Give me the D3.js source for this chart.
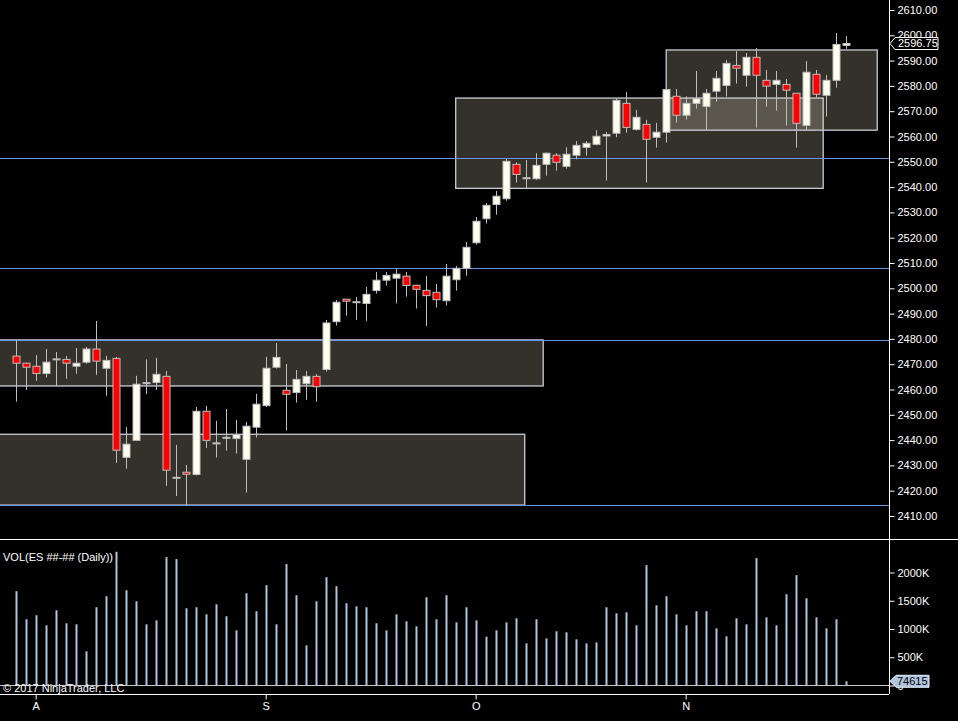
<!DOCTYPE html>
<html>
<head>
<meta charset="utf-8">
<script src="https://cdn.jsdelivr.net/npm/d3@7"></script>
<style>
  body { margin: 0; background: #000; }
  svg { display: block; font-family: "Liberation Sans", Arial, sans-serif; }
  .axis text { fill: #fff; font-size: 11px; }
  .axis line { stroke: #fff; }
  .axis path { display: none; }
</style>
</head>
<body>
<div id="chart"></div>
<script>
// daily bars, index 0 = first bar shown
var open = [2473.2, 2470.4, 2469.2, 2466.3, 2472.1, 2471.9, 2469.2, 2470.8, 2476.0, 2468.4,
    2472.3, 2433.2, 2439.9, 2462.7, 2462.8, 2465.2, 2425.3, 2427.3, 2426.4, 2451.4,
    2438.9, 2441.1, 2440.6, 2432.4, 2445.1, 2453.6, 2468.8, 2459.7, 2458.8, 2462.3,
    2465.2, 2467.9, 2486.8, 2495.7, 2494.7, 2494.0, 2499.1, 2503.2, 2504.0, 2504.8,
    2501.2, 2499.2, 2498.4, 2495.1, 2503.4, 2507.9, 2518.0, 2527.5, 2533.1, 2535.4,
    2549.0, 2543.7, 2543.3, 2549.0, 2552.6, 2548.2, 2552.6, 2555.7, 2556.9, 2560.2,
    2561.3, 2573.1, 2562.8, 2564.8, 2559.7, 2561.7, 2575.9, 2568.4, 2573.1, 2571.9,
    2577.9, 2580.2, 2588.1, 2584.2, 2591.3, 2582.2, 2580.6, 2580.6, 2577.1, 2564.4,
    2584.6, 2576.3, 2582.2, 2596.0];
var high = [2479.6, 2470.6, 2473.6, 2476.0, 2474.8, 2473.3, 2476.4, 2476.8, 2487.1, 2473.3,
    2472.9, 2445.2, 2465.4, 2471.9, 2472.5, 2467.3, 2438.1, 2430.2, 2453.1, 2453.5,
    2447.6, 2452.3, 2448.0, 2447.2, 2458.3, 2472.9, 2478.4, 2470.1, 2467.7, 2467.3,
    2466.1, 2487.5, 2495.4, 2495.7, 2496.6, 2500.5, 2506.5, 2506.5, 2507.7, 2506.5,
    2501.4, 2504.9, 2501.7, 2509.6, 2508.8, 2518.3, 2528.2, 2533.7, 2538.5, 2551.1,
    2549.8, 2550.7, 2553.4, 2553.7, 2553.4, 2555.7, 2558.2, 2558.2, 2562.5, 2561.7,
    2575.0, 2577.6, 2570.5, 2566.6, 2565.4, 2578.6, 2578.8, 2575.9, 2585.9, 2578.8,
    2585.9, 2590.2, 2593.8, 2593.0, 2595.0, 2586.3, 2585.9, 2582.7, 2577.1, 2589.8,
    2586.3, 2584.3, 2600.9, 2599.7];
var low = [2455.2, 2459.8, 2463.4, 2464.7, 2461.4, 2464.2, 2466.2, 2470.2, 2465.8, 2457.5,
    2431.0, 2428.7, 2439.9, 2458.2, 2459.8, 2421.9, 2417.9, 2414.0, 2426.0, 2436.9,
    2433.1, 2435.8, 2434.7, 2419.3, 2441.0, 2453.1, 2468.3, 2443.8, 2454.8, 2455.9,
    2455.2, 2467.1, 2485.3, 2489.2, 2487.5, 2487.1, 2497.9, 2501.1, 2494.0, 2496.7,
    2492.0, 2485.1, 2492.4, 2493.2, 2499.1, 2505.0, 2517.3, 2525.6, 2529.1, 2534.6,
    2541.8, 2539.5, 2542.9, 2544.5, 2546.5, 2547.3, 2551.0, 2552.4, 2556.5, 2542.6,
    2559.7, 2561.5, 2562.3, 2541.8, 2555.6, 2557.6, 2565.5, 2566.7, 2571.0, 2562.6,
    2573.8, 2575.8, 2580.9, 2579.7, 2563.5, 2571.8, 2570.2, 2564.3, 2555.6, 2562.6,
    2575.5, 2567.9, 2579.3, 2594.7];
var close = [2470.4, 2468.8, 2466.3, 2470.8, 2472.1, 2470.4, 2470.4, 2476.0, 2471.2, 2471.5,
    2436.0, 2438.4, 2462.1, 2462.7, 2466.0, 2428.1, 2425.3, 2426.5, 2451.4, 2439.9,
    2438.9, 2441.1, 2442.2, 2445.5, 2454.2, 2468.4, 2472.7, 2458.1, 2464.0, 2465.2,
    2461.1, 2486.3, 2494.5, 2494.9, 2494.7, 2497.6, 2503.2, 2505.1, 2505.6, 2501.1,
    2499.6, 2497.1, 2495.5, 2504.8, 2507.9, 2516.2, 2526.5, 2532.8, 2536.4, 2550.2,
    2545.0, 2543.7, 2548.6, 2553.4, 2549.8, 2553.0, 2556.5, 2557.3, 2560.1, 2560.8,
    2574.3, 2563.6, 2567.6, 2558.9, 2561.7, 2578.6, 2568.4, 2573.1, 2574.9, 2577.1,
    2583.0, 2588.9, 2587.0, 2591.3, 2584.2, 2579.9, 2582.2, 2578.3, 2565.2, 2585.4,
    2576.7, 2582.2, 2596.4, 2596.75];
var volume = [1669000, 1172000, 1243000, 1065000, 1331000, 1101000, 1083000, 604000, 1385000, 1580000,
    2367000, 1686000, 1491000, 1083000, 1154000, 2272000, 2237000, 1367000, 1385000, 1260000,
    1438000, 1225000, 976000, 1633000, 1314000, 1775000, 1083000, 2148000, 1598000, 710000,
    1491000, 1917000, 1757000, 1456000, 1402000, 1385000, 1101000, 976000, 1260000, 1136000,
    1047000, 1562000, 1172000, 1598000, 1118000, 1385000, 1154000, 864000, 976000, 1118000,
    1189000, 746000, 1172000, 834000, 959000, 941000, 817000, 746000, 763000, 1385000,
    1278000, 1296000, 1065000, 2130000, 1420000, 1580000, 1260000, 1065000, 1314000, 1314000,
    1012000, 870000, 1189000, 1083000, 2254000, 1207000, 1065000, 1615000, 1953000, 1544000,
    1207000, 1012000, 1172000, 74615];

// month ticks (bar index of first session of month)
var monthIdx = [2, 25, 46, 67];
var monthLabels = ["A", "S", "O", "N"];

// drawn zones (bar index range, price range)
var zoneStart = [-3, -3, 44.0, 65.05];
var zoneEnd = [52.75, 50.9, 80.75, 86.15];
var zoneTop = [2479.6, 2442.3, 2575.2, 2594.2];
var zoneBottom = [2461.4, 2414.3, 2539.5, 2562.5];

// horizontal lines
var levels = [2551.4, 2508.0, 2479.6, 2414.3];

var priceTicks = d3.range(2410, 2611, 10);
var volTicks = [0, 500000, 1000000, 1500000, 2000000];

var W = 958, H = 721, axisX = 889, sepY = 539.5, volBottom = 694;

var svg = d3.select("#chart").append("svg")
    .attr("width", W)
    .attr("height", H);

svg.append("rect").attr("width", W).attr("height", H).attr("fill", "#000");

var bars = d3.range(open.length).map(function (i) {
    return { i: i, o: open[i], h: high[i], l: low[i], c: close[i], v: volume[i] };
});

var x = d3.scaleLinear().domain([0, 83]).range([15.7, 845.7]);
var y = d3.scaleLinear().domain([2410, 2610]).range([516, 10]);
var yv = d3.scaleLinear().domain([0, 2000000]).range([685.5, 572.5]);

svg.append("clipPath").attr("id", "pclip")
    .append("rect").attr("x", 0).attr("y", 0).attr("width", axisX).attr("height", sepY);

var price = svg.append("g").attr("clip-path", "url(#pclip)");

// zones
var zones = d3.range(zoneStart.length);
price.selectAll(".zone")
    .data(zones)
    .enter().append("rect")
    .attr("class", "zone")
    .attr("x", function (k) { return x(zoneStart[k]); })
    .attr("width", function (k) { return x(zoneEnd[k]) - x(zoneStart[k]); })
    .attr("y", function (k) { return y(zoneTop[k]); })
    .attr("height", function (k) { return y(zoneBottom[k]) - y(zoneTop[k]); })
    .attr("fill", "rgba(238,222,198,0.22)")
    .attr("stroke", "#c8cdd6")
    .attr("stroke-width", 1.3);

// level lines
price.selectAll(".level")
    .data(levels)
    .enter().append("line")
    .attr("class", "level")
    .attr("x1", 0).attr("x2", axisX)
    .attr("y1", function (d) { return Math.round(y(d)) + 0.5; })
    .attr("y2", function (d) { return Math.round(y(d)) + 0.5; })
    .attr("stroke", "#6a95ea")
    .attr("stroke-width", 1.2);

// wicks
price.selectAll(".wick")
    .data(bars)
    .enter().append("line")
    .attr("class", "wick")
    .attr("x1", function (d) { return Math.round(x(d.i)) + 0.5; })
    .attr("x2", function (d) { return Math.round(x(d.i)) + 0.5; })
    .attr("y1", function (d) { return y(d.h); })
    .attr("y2", function (d) { return y(d.l); })
    .attr("stroke", "#bdbdbd")
    .attr("stroke-width", 1);

// bodies
price.selectAll(".body")
    .data(bars)
    .enter().append("rect")
    .attr("class", "body")
    .attr("x", function (d) { return Math.round(x(d.i)) - 3; })
    .attr("width", 7)
    .attr("y", function (d) { return y(Math.max(d.o, d.c)); })
    .attr("height", function (d) { return Math.max(1, Math.abs(y(d.o) - y(d.c))); })
    .attr("fill", function (d) { return d.c >= d.o ? "#fffff0" : "#ff0000"; })
    .attr("stroke", "#bdbdbd")
    .attr("stroke-width", 1);

// price axis
svg.append("line")
    .attr("x1", axisX + 0.5).attr("x2", axisX + 0.5)
    .attr("y1", 0).attr("y2", volBottom)
    .attr("stroke", "#fff");

svg.append("g")
    .attr("class", "axis")
    .attr("transform", "translate(" + (axisX + 0.5) + ",0)")
    .call(d3.axisRight(y).tickValues(priceTicks).tickFormat(d3.format(".2f"))
        .tickSize(5).tickSizeOuter(0).tickPadding(3));

// last price marker
var lastP = close[close.length - 1];
var ly = y(lastP);
svg.append("path")
    .attr("d", "M" + (axisX + 1) + "," + ly + " L" + (axisX + 6) + "," + (ly - 6) +
        " H938 V" + (ly + 6) + " H" + (axisX + 6) + " Z")
    .attr("fill", "#000")
    .attr("stroke", "#fff")
    .attr("stroke-width", 1);
svg.append("text")
    .attr("x", 898).attr("y", ly)
    .attr("dy", "0.35em")
    .attr("fill", "#fff")
    .style("font-size", "11px")
    .text(d3.format(".2f")(lastP));

// panel separator
svg.append("line")
    .attr("x1", 0).attr("x2", W)
    .attr("y1", sepY).attr("y2", sepY)
    .attr("stroke", "#fff");

// volume panel
svg.append("line")
    .attr("x1", 0).attr("x2", axisX)
    .attr("y1", yv(0)).attr("y2", yv(0))
    .attr("stroke", "#c8c8c8");

svg.selectAll(".vbar")
    .data(bars)
    .enter().append("rect")
    .attr("class", "vbar")
    .attr("x", function (d) { return Math.round(x(d.i)) - 0.5; })
    .attr("width", 2)
    .attr("y", function (d) { return yv(d.v); })
    .attr("height", function (d) { return yv(0) - yv(d.v); })
    .attr("fill", "#b0c4de");

svg.append("g")
    .attr("class", "axis")
    .attr("transform", "translate(" + (axisX + 0.5) + ",0)")
    .call(d3.axisRight(yv).tickValues(volTicks)
        .tickFormat(function (d) { return d === 0 ? "0" : (d / 1000) + "K"; })
        .tickSize(5).tickSizeOuter(0).tickPadding(3));

// last volume marker
var lastV = volume[volume.length - 1];
var vy = yv(lastV);
svg.append("path")
    .attr("d", "M" + (axisX + 1) + "," + vy + " L" + (axisX + 7) + "," + (vy - 6) +
        " H929 V" + (vy + 6) + " H" + (axisX + 7) + " Z")
    .attr("fill", "#b0c4de")
    .attr("stroke", "#e8eef6")
    .attr("stroke-width", 1);
svg.append("text")
    .attr("x", 897).attr("y", vy)
    .attr("dy", "0.35em")
    .attr("fill", "#000")
    .style("font-size", "11px")
    .text(lastV);

svg.append("text")
    .attr("x", 3).attr("y", 561)
    .attr("fill", "#fff")
    .style("font-size", "11px")
    .text("VOL(ES ##-## (Daily))");

svg.append("text")
    .attr("x", 3).attr("y", 692)
    .attr("fill", "#fff")
    .style("font-size", "11px")
    .text("\u00a9 2017 NinjaTrader, LLC");

// time axis
svg.append("line")
    .attr("x1", 0).attr("x2", axisX)
    .attr("y1", volBottom + 0.5).attr("y2", volBottom + 0.5)
    .attr("stroke", "#fff");

svg.append("g")
    .attr("class", "axis")
    .attr("transform", "translate(0," + (volBottom + 0.5) + ")")
    .call(d3.axisBottom(x).tickValues(monthIdx)
        .tickFormat(function (d, k) { return monthLabels[k]; })
        .tickSize(5).tickSizeOuter(0).tickPadding(3));
</script>
</body>
</html>
